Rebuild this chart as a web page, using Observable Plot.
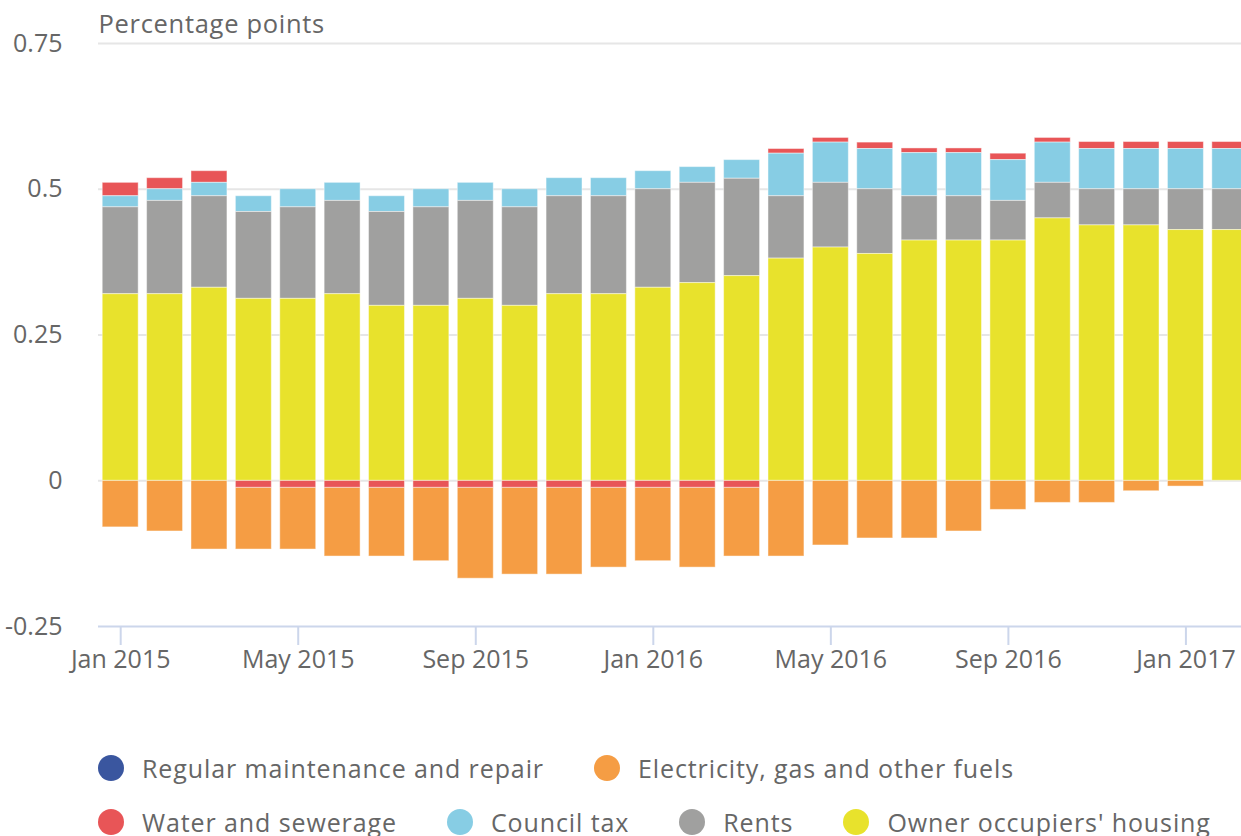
<!DOCTYPE html>
<html>
<head>
<meta charset="utf-8">
<script src="https://cdn.jsdelivr.net/npm/d3@7"></script>
<script src="https://cdn.jsdelivr.net/npm/@observablehq/plot@0.6"></script>
<style>
  html, body { margin: 0; padding: 0; background: #fff; overflow: hidden; width: 1241px; height: 836px; }
  #chart { position: absolute; left: 0; top: 0; width: 1252px; }
  #chart svg { max-width: none !important; }
  .lrow { position: absolute; left: 98px; height: 36px; display: flex; align-items: center;
          font-family: "Open Sans", sans-serif; font-size: 25px; letter-spacing: 0.9px; color: #666; white-space: nowrap; }
  .litem { display: flex; align-items: center; margin-right: 50px; }
  .ldot { width: 26px; height: 26px; border-radius: 50%; margin-right: 18px; flex: none; }
</style>
</head>
<body>
<div id="chart"></div>
<div id="legend"></div>
<script>
const months = ["Jan 2015","Feb 2015","Mar 2015","Apr 2015","May 2015","Jun 2015","Jul 2015","Aug 2015","Sep 2015","Oct 2015","Nov 2015","Dec 2015",
                "Jan 2016","Feb 2016","Mar 2016","Apr 2016","May 2016","Jun 2016","Jul 2016","Aug 2016","Sep 2016","Oct 2016","Nov 2016","Dec 2016",
                "Jan 2017","Feb 2017"];
const xTicks = ["Jan 2015","May 2015","Sep 2015","Jan 2016","May 2016","Sep 2016","Jan 2017"];
const yTicks = [-0.25, 0, 0.25, 0.5, 0.75];

const series = ["Regular maintenance and repair","Electricity, gas and other fuels","Water and sewerage","Council tax","Rents","Owner occupiers' housing"];
const colors = ["#3a569f","#f59d44","#e85557","#87cde4","#a0a09f","#e8e22c"];
const stackOrder = ["Owner occupiers' housing","Rents","Council tax","Water and sewerage","Electricity, gas and other fuels","Regular maintenance and repair"];

const regularMaintenance = [0,0,0,0,0,0,0,0,0,0,0,0,0,0,0,0,0,0,0,0,0,0,0,0,0,0];
const electricity = [-0.080,-0.087,-0.118,-0.106,-0.106,-0.118,-0.118,-0.126,-0.156,-0.149,-0.149,-0.137,-0.126,-0.137,-0.118,
                     -0.130,-0.111,-0.099,-0.099,-0.087,-0.050,-0.038,-0.038,-0.018,-0.010,0];
const water = [0.023,0.019,0.020,-0.012,-0.012,-0.012,-0.012,-0.012,-0.012,-0.012,-0.012,-0.012,-0.012,-0.012,-0.012,
               0.008,0.008,0.011,0.008,0.008,0.011,0.008,0.012,0.012,0.012,0.012];
const councilTax = [0.019,0.020,0.023,0.027,0.031,0.031,0.027,0.031,0.031,0.031,0.031,0.031,0.031,0.027,0.032,
                    0.073,0.069,0.069,0.074,0.074,0.070,0.069,0.069,0.069,0.069,0.069];
const rents = [0.149,0.160,0.157,0.149,0.157,0.160,0.161,0.169,0.168,0.169,0.168,0.168,0.169,0.172,0.167,
               0.107,0.111,0.111,0.076,0.076,0.068,0.061,0.062,0.062,0.070,0.070];
const ownerOccupiers = [0.320,0.320,0.331,0.312,0.312,0.320,0.300,0.300,0.312,0.300,0.320,0.320,0.331,0.339,0.351,
                        0.381,0.400,0.389,0.412,0.412,0.412,0.450,0.438,0.438,0.430,0.430];

const seriesValues = [regularMaintenance, electricity, water, councilTax, rents, ownerOccupiers];
const rows = [];
series.forEach((s, i) => months.forEach((m, j) => rows.push({month: m, series: s, value: seriesValues[i][j]})));

const chart = Plot.plot({
  width: 1252,
  height: 690,
  marginLeft: 98,
  marginRight: 0,
  marginTop: 43,
  marginBottom: 64,
  style: {fontFamily: "'Open Sans', sans-serif", fontSize: "25px", color: "#666", background: "#fff", overflow: "visible", maxWidth: "none"},
  x: {type: "band", domain: months, paddingInner: 0.19, paddingOuter: 0.095, round: false},
  y: {domain: [-0.25, 0.75]},
  color: {domain: series, range: colors},
  marks: [
    Plot.ruleY(yTicks.filter(d => d > -0.25), {stroke: "#e6e6e6", strokeWidth: 2}),
    Plot.barY(rows, {x: "month", y: "value", fill: "series", order: stackOrder, stroke: "#fff", strokeOpacity: 0.45, strokeWidth: 1}),
    Plot.ruleY([-0.25], {stroke: "#ccd6eb", strokeWidth: 2}),
    Plot.axisY(yTicks, {tickSize: 0, tickPadding: 36, tickFormat: d => String(d), fill: "#666", label: null, fontSize: 25, style: {letterSpacing: "0.5px"}}),
    Plot.axisX(xTicks, {tickSize: 19, tickPadding: 5, stroke: "#ccd6eb", strokeWidth: 2, fill: "#666", label: null, fontSize: 25}),
    Plot.text(["Percentage points"], {frameAnchor: "top-left", textAnchor: "start", lineAnchor: "bottom", dy: -11, fill: "#666", fontSize: 25.5})
  ]
});
chart.querySelectorAll("text").forEach(t => { if (t.textContent === "Percentage points") t.style.letterSpacing = "0.7px"; });
document.getElementById("chart").appendChild(chart);

const legendRows = [[0, 1], [2, 3, 4, 5]];
const legendTops = [750, 804];
const legend = document.getElementById("legend");
legendRows.forEach((r, k) => {
  const row = document.createElement("div");
  row.className = "lrow";
  row.style.top = legendTops[k] + "px";
  r.forEach(i => {
    const item = document.createElement("div");
    item.className = "litem";
    const dot = document.createElement("span");
    dot.className = "ldot";
    dot.style.background = colors[i];
    const label = document.createElement("span");
    label.textContent = series[i];
    item.appendChild(dot);
    item.appendChild(label);
    row.appendChild(item);
  });
  legend.appendChild(row);
});
</script>
</body>
</html>
